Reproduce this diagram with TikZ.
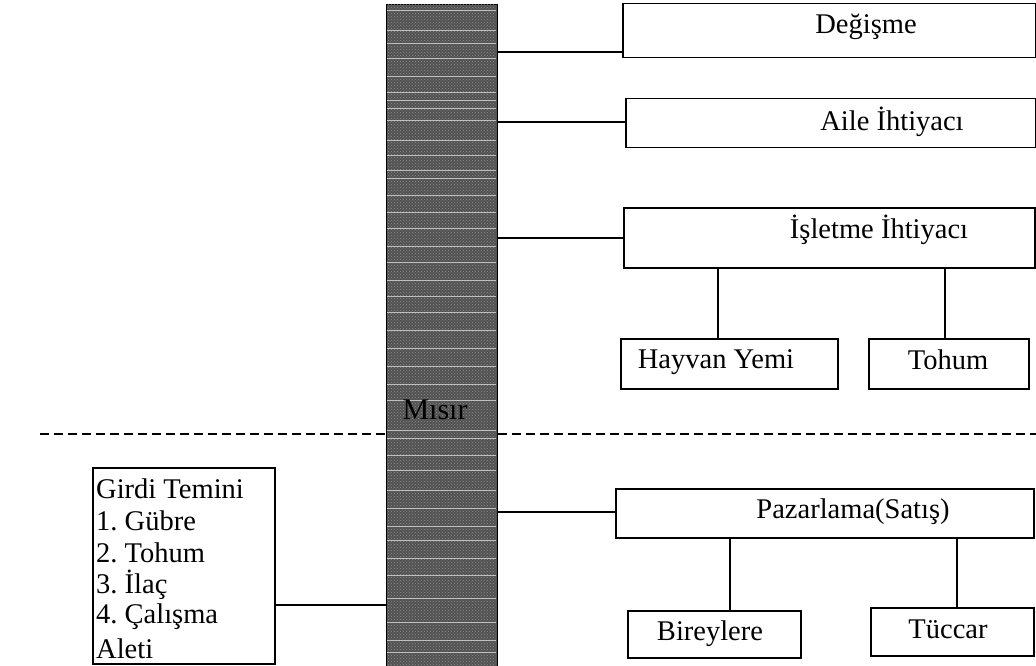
\documentclass[tikz,border=0pt]{standalone}
\usepackage{fontspec}
\setmainfont{Liberation Serif}
\usetikzlibrary{patterns}
\frenchspacing
\begin{document}
\begin{tikzpicture}[x=1pt,y=-1pt,
  box/.style={draw,line width=1.5pt,minimum width=#1,inner sep=0pt,anchor=north west},
  lbl/.style={inner sep=0pt,font=\fontsize{28.5}{32}\selectfont},
  link/.style={line width=1.5pt},
  sep/.style={line width=1.6pt,dash pattern=on 9pt off 5pt}]
\useasboundingbox (0,0) rectangle (1036,666);

% the central column
\node[draw=black,line width=1.4pt,fill=black!68,minimum width=111pt,minimum height=668pt,
      inner sep=0pt,anchor=north west] (bar) at (386,4) {};
\fill[pattern=crosshatch dots,pattern color=black!35,opacity=0.7] (387,5) rectangle (496,666);
\foreach \yy in {10,30,43,58,76,92,100,108,120,140,155,170,178,195,212,228,246,262,280,
                 296,312,330,348,366,384,400,430,438,455,470,490,508,526,540,558,575,598,622,640,652}
  \draw[black!25,line width=0.8pt] (387,\yy) -- (496,\yy);
\node[lbl,font=\fontsize{30}{32}\selectfont] (misir) at (435,410) {Mısır};

% right-hand boxes
\node[box=413pt,minimum height=54pt] (degisme) at (622,3) {};
\node[lbl] at (866,27) {Değişme};
\node[box=410pt,minimum height=49pt] (aile) at (625,98) {};
\node[lbl] at (892,122) {Aile İhtiyacı};
\node[box=411pt,minimum height=60pt] (isletme) at (623,207) {};
\node[lbl] at (879,230) {İşletme İhtiyacı};
\node[box=217pt,minimum height=50pt] (hayvan) at (620,338) {};
\node[lbl] at (716,362) {Hayvan Yemi};
\node[box=160pt,minimum height=50pt] (tohum) at (868,338) {};
\node[lbl] at (948,360) {Tohum};

\node[box=418pt,minimum height=49pt] (pazar) at (615,488) {};
\node[lbl] at (853,512) {Pazarlama(Satış)};
\node[box=173pt,minimum height=47pt] (birey) at (627,610) {};
\node[lbl] at (710,634) {Bireylere};
\node[box=163pt,minimum height=48pt] (tuccar) at (870,607) {};
\node[lbl] at (948,629) {Tüccar};

% input supply box on the left
\node[box=182pt,minimum height=196pt] (girdi) at (92,467) {};
\foreach \t [count=\i from 0] in {Girdi Temini,1. Gübre,2. Tohum,3. İlaç,4. Çalışma,Aleti}
  \node[lbl,anchor=west] at (96,489+32*\i) {\t};

% connectors
\draw[link] (bar.east |- 0,52) -- (degisme.west |- 0,52);
\draw[link] (bar.east |- 0,122) -- (aile.west |- 0,122);
\draw[link] (bar.east |- 0,238) -- (isletme.west |- 0,238);
\draw[link] (bar.east |- 0,512) -- (pazar.west |- 0,512);
\draw[link] (girdi.east |- 0,605) -- (bar.west |- 0,605);
\draw[link] (isletme.south -| 718,0) -- (hayvan.north -| 718,0);
\draw[link] (isletme.south -| 945,0) -- (tohum.north -| 945,0);
\draw[link] (pazar.south -| 730,0) -- (birey.north -| 730,0);
\draw[link] (pazar.south -| 957,0) -- (tuccar.north -| 957,0);

% dashed divider
\coordinate (dl) at (40,434);
\coordinate (dr) at (1036,434);
\draw[sep] (dl) -- (bar.west |- dl);
\draw[sep] (bar.east |- dr) -- (dr);
\end{tikzpicture}
\end{document}
